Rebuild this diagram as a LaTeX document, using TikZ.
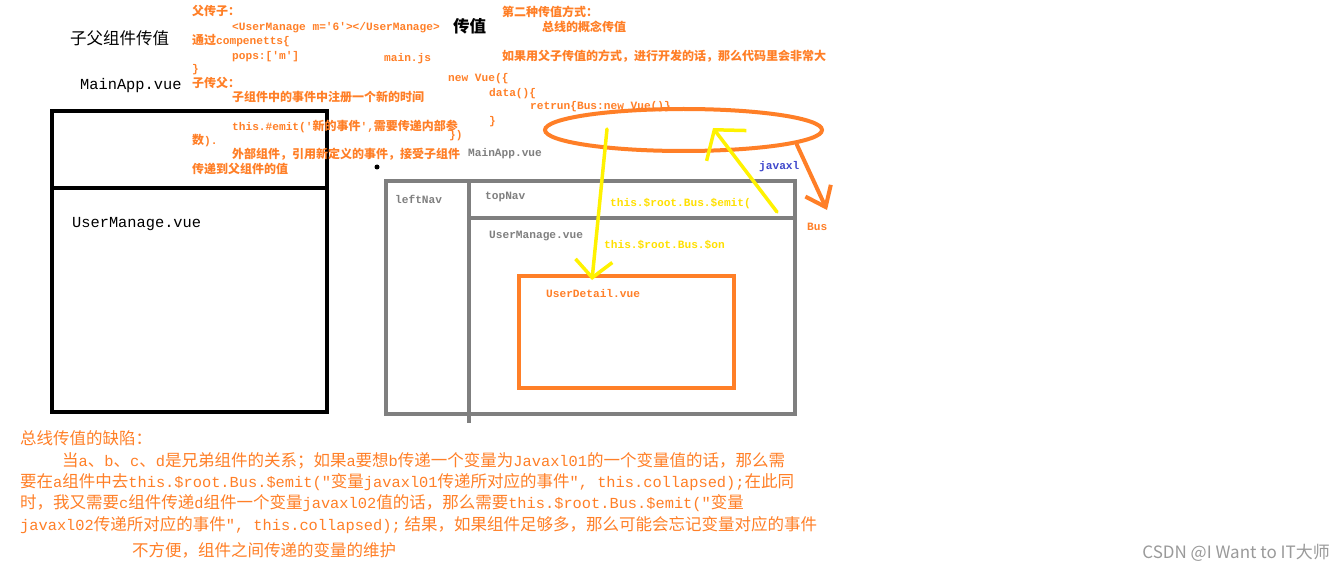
\documentclass[tikz,border=0pt]{standalone}
\usepackage{fontspec}
\setmainfont{Noto Sans CJK SC}
\setmonofont{Liberation Mono}[Scale=0.93]
\usetikzlibrary{shapes.geometric,arrows.meta,positioning}

\definecolor{inkorange}{HTML}{FF7F27}
\definecolor{inkyellow}{HTML}{FFF200}
\definecolor{inktext}{HTML}{FFE000}
\definecolor{inkgray}{HTML}{7F7F7F}
\definecolor{inkblue}{HTML}{3F48CC}
\definecolor{markgray}{HTML}{9A9A9A}

\newcommand{\notesize}{\fontsize{12}{14}\selectfont}
\newcommand{\bigsize}{\fontsize{16.5}{19}\selectfont}
\newcommand{\storysize}{\fontsize{16.5}{19}\selectfont}

\begin{document}
\begin{tikzpicture}[
    x=1pt, y=-1pt,
    note/.style={anchor=west, inner sep=0pt, text=inkorange, font=\notesize\bfseries, text height=9pt, text depth=3pt},
    code/.style={note, font=\notesize\bfseries\ttfamily},
    graylabel/.style={code, text=inkgray},
    yellowlabel/.style={code, text=inktext},
    title/.style={anchor=west, inner sep=0pt, font=\bigsize},
    story/.style={anchor=west, inner sep=0pt, text=inkorange, font=\storysize, text height=12pt, text depth=4pt},
    frame/.style={draw, rectangle, inner sep=0pt, line width=3.5pt},
    yline/.style={draw=inkyellow, line width=3.5pt, line cap=round},
    oline/.style={draw=inkorange, line width=4pt, line cap=round}
]
    \path [use as bounding box, fill=white] (0,0) rectangle (1343,572);

    % parent/child side
    \node [title] (parenttitle) at (70,38) {子父组件传值};
    \node [title, font=\bigsize\ttfamily] (mainapp) at (80,86) {MainApp.vue};
    \node [frame, minimum width=275pt, minimum height=301pt] (mainframe) at (189.5,261.5) {};
    \draw [line width=3.5pt] (mainframe.west |- 0,188) -- (328,188);
    \node [title, font=\bigsize\ttfamily] (usermanage) at (72,224) {UserManage.vue};

    \node [note] (ptoc) at (192,13) {父传子：};
    \node [code] (ptoctag) at (232,28) {<UserManage m='6'></UserManage>};
    \node [note] (viaprops) at (192,42) {通过\texttt{compenetts\{}};
    \node [code] (propsline) at (232,57) {pops:['m']};
    \node [code] (propsend) at (192,70) {\}};
    \node [note] (ctop) at (192,85) {子传父：};
    \node [note] (ctopreg) at (232,99) {子组件中的事件中注册一个新的时间};
    \node [note] (ctopemit) at (232,128) {\texttt{this.\#emit('}新的事件\texttt{',}需要传递内部参};
    \node [note] (ctopemitend) at (192,142) {数\texttt{).}};
    \node [note] (ctopuse) at (232,156) {外部组件，引用新定义的事件，接受子组件};
    \node [note] (ctopuseend) at (192,171) {传递到父组件的值};

    % bus side
    \node [title, font=\bigsize\bfseries] (chuanzhi) at (453,26) {传值};
    \node [note] (second) at (502,14) {第二种传值方式：};
    \node [note] (busidea) at (542,29) {总线的概念传值};
    \node [note] (toobig) at (502,58) {如果用父子传值的方式，进行开发的话，那么代码里会非常大};
    \node [code] (mainjs) at (384,59) {main.js};
    \node [code] (newvue) at (448,79) {new Vue(\{};
    \node [code] (datafn) at (489,94) {data()\{};
    \node [code] (retrun) at (530,107) {retrun\{Bus:new Vue()\}};
    \node [code] (dataend) at (489,122) {\}};
    \node [code] (newvueend) at (449,136) {\})};

    \node [ellipse, draw=inkorange, line width=4pt, inner sep=0pt, minimum width=277pt, minimum height=42pt] (bus) at (683.5,130) {};

    \node [graylabel] (appname) at (468,154) {MainApp.vue};
    \fill (377,167) circle (2.5pt);
    \node [code, text=inkblue] (javaxl) at (759,167) {javaxl};
    \node [code] (buslabel) at (807,227) {Bus};

    \node [frame, draw=inkgray, minimum width=409pt, minimum height=233pt] (appframe) at (590.5,297.5) {};
    \draw [inkgray, line width=3.5pt] (469,181) -- (469,423);
    \draw [inkgray, line width=3.5pt] (469,218) -- (appframe.east |- 0,218);
    \node [graylabel] (leftnav) at (395,201) {leftNav};
    \node [graylabel] (topnav) at (485,197) {topNav};
    \node [graylabel] (umname) at (489,235) {UserManage.vue};

    \node [frame, draw=inkorange, line width=4pt, minimum width=215pt, minimum height=112pt] (userdetail) at (626.5,332) {};
    \node [code] (udname) at (546,294) {UserDetail.vue};

    \node [yellowlabel] (emitlabel) at (610,203) {this.\$root.Bus.\$emit(};
    \node [yellowlabel] (onlabel) at (604,245) {this.\$root.Bus.\$on};

    \coordinate (ontail) at (607,129);
    \coordinate (onhead) at (592,280);
    \coordinate (emittail) at (777,212);
    \coordinate (emithead) at (713,128);
    \coordinate (bustail) at (797,145);
    \coordinate (bushead) at (827,210);
    \path [yline, -{Straight Barb[length=17pt, width=37pt]}] (ontail) -- (onhead);
    \path [yline, -{Straight Barb[length=20pt, width=50pt]}] (emittail) -- (emithead);
    \path [oline, -{Straight Barb[length=18pt, width=28pt]}] (bustail) -- (bushead);

    % drawbacks
    \node [story] (flaw) at (20,440) {总线传值的缺陷：};
    \node [story] (flawa) at (62,462) {当\texttt{a}、\texttt{b}、\texttt{c}、\texttt{d}是兄弟组件的关系；如果\texttt{a}要想\texttt{b}传递一个变量为\texttt{Javaxl01}的一个变量值的话，那么需};
    \node [story] (flawb) at (20,483) {要在\texttt{a}组件中去\texttt{this.\$root.Bus.\$emit("}变量\texttt{javaxl01}传递所对应的事件\texttt{", this.collapsed);}在此同};
    \node [story] (flawc) at (20,504) {时，我又需要\texttt{c}组件传递\texttt{d}组件一个变量\texttt{javaxl02}值的话，那么需要\texttt{this.\$root.Bus.\$emit("}变量};
    \node [story] (flawd) at (20,526) {\texttt{javaxl02}传递所对应的事件\texttt{", this.collapsed);} 结果，如果组件足够多，那么可能会忘记变量对应的事件};
    \node [story] (flawe) at (132,552) {不方便，组件之间传递的变量的维护};

    \node [anchor=east, inner sep=0pt, text=markgray, font=\fontsize{17}{20}\selectfont] (csdn) at (1330,553) {CSDN @I Want to IT大师};
\end{tikzpicture}
\end{document}
